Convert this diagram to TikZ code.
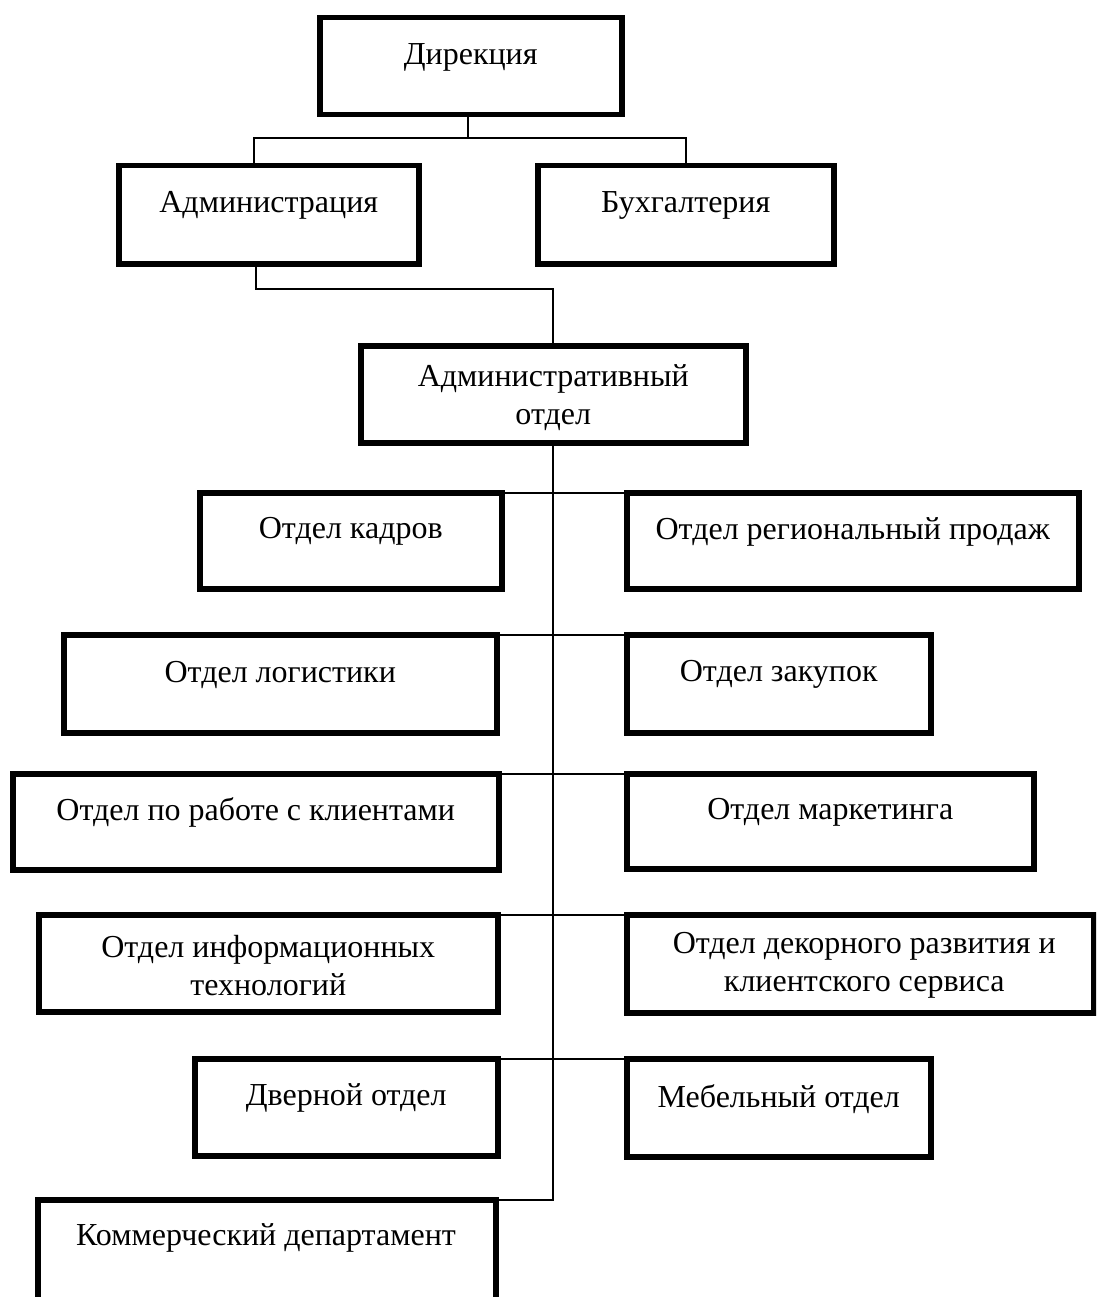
\documentclass[tikz,border=0pt]{standalone}
\usepackage{fontspec}
\setmainfont{Liberation Serif}
\begin{document}
\begin{tikzpicture}[x=1pt,y=-1pt,
  box/.style={draw, line width=5.5pt, inner sep=0pt, outer sep=0pt, anchor=north west, xshift=2.75pt, yshift=-2.75pt},
  txt/.style={font=\fontsize{32}{38}\selectfont, align=center, inner sep=0pt},
  conn/.style={line width=1.6pt}]
\useasboundingbox (0,0) rectangle (1096,1297);
\clip (0,0) rectangle (1096,1297);
% boxes
\node[box, minimum width=302pt, minimum height=97pt] (dir) at (317,15) {};
\node[box, minimum width=300pt, minimum height=98pt] (admin) at (116,163) {};
\node[box, minimum width=296pt, minimum height=98pt] (buh) at (535,163) {};
\node[box, minimum width=385pt, minimum height=97pt] (ado) at (358,343) {};
\node[box, minimum width=302pt, minimum height=96pt] (kadr) at (197,490) {};
\node[box, minimum width=452pt, minimum height=96pt] (reg) at (624,490) {};
\node[box, minimum width=433pt, minimum height=98pt] (log) at (61,632) {};
\node[box, minimum width=304pt, minimum height=98pt] (zak) at (624,632) {};
\node[box, minimum width=486pt, minimum height=96pt] (cli) at (10,771) {};
\node[box, minimum width=407pt, minimum height=95pt] (mkt) at (624,771) {};
\node[box, minimum width=459pt, minimum height=97pt] (it) at (36,912) {};
\node[box, minimum width=467pt, minimum height=98pt] (dek) at (624,912) {};
\node[box, minimum width=303pt, minimum height=97pt] (dver) at (192,1056) {};
\node[box, minimum width=304pt, minimum height=98pt] (meb) at (624,1056) {};
\node[box, minimum width=458pt, minimum height=130pt] (kom) at (35,1197) {};
% texts
\node[txt] (dirT) at ([yshift=9pt]dir.center) {Дирекция};
\node[txt] (adminT) at ([yshift=9pt]admin.center) {Администрация};
\node[txt] (buhT) at ([yshift=9pt]buh.center) {Бухгалтерия};
\node[txt] (adoT) at ([yshift=-3pt]ado.center) {Административный\\отдел};
\node[txt] (kadrT) at ([yshift=9pt]kadr.center) {Отдел кадров};
\node[txt] (regT) at ([yshift=9pt]reg.center) {Отдел региональный продаж};
\node[txt] (logT) at ([yshift=9pt]log.center) {Отдел логистики};
\node[txt] (zakT) at ([yshift=9pt]zak.center) {Отдел закупок};
\node[txt] (cliT) at ([yshift=9pt]cli.center) {Отдел по работе с клиентами};
\node[txt] (mktT) at ([yshift=9pt]mkt.center) {Отдел маркетинга};
\node[txt] (itT) at ([yshift=-2pt]it.center) {Отдел информационных\\технологий};
\node[txt] (dekT) at ([xshift=4pt,yshift=-2pt]dek.center) {Отдел декорного развития и\\клиентского сервиса};
\node[txt] (dverT) at ([yshift=9pt]dver.center) {Дверной отдел};
\node[txt] (mebT) at ([yshift=9pt]meb.center) {Мебельный отдел};
\node[txt] (komT) at (266,1238) {Коммерческий департамент};
% connectors
\coordinate (j1) at (468,138);
\coordinate (j2) at (553,289);
\draw[conn] (dir.south -| j1) -- (j1);
\draw[conn] ([xshift=135pt]admin.north west) |- (j1) -| (buh.north);
\draw[conn] ([xshift=137pt]admin.south west) |- (j2) -- (ado.north -| j2);
\draw[conn] (ado.south -| j2) |- (kom.north east);
\draw[conn] (kadr.north east) -- (reg.north west);
\draw[conn] (log.north east) -- (zak.north west);
\draw[conn] (cli.north east) -- (mkt.north west);
\draw[conn] (it.north east) -- (it.north east -| dek.west);
\draw[conn] (dver.north east) -- (meb.north west);
\end{tikzpicture}
\end{document}
